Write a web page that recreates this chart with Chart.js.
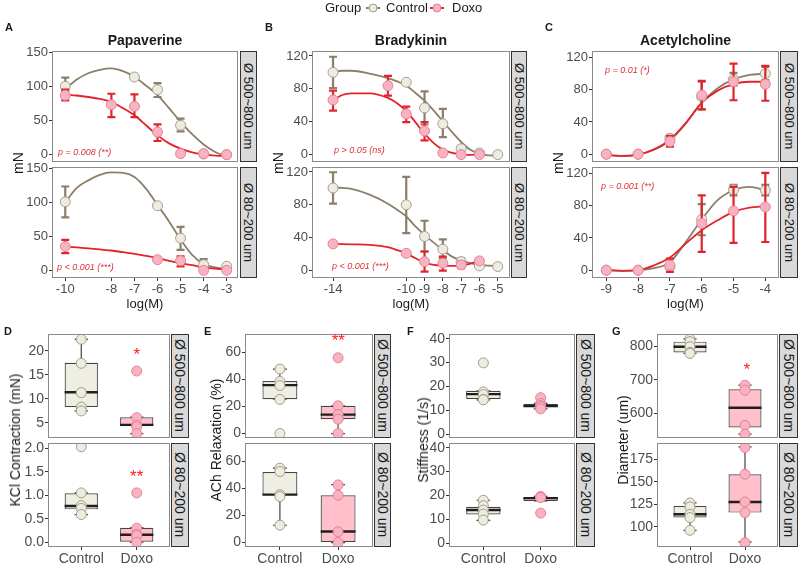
<!DOCTYPE html>
<html><head><meta charset="utf-8">
<script src="https://cdn.jsdelivr.net/npm/chart.js@4.4.1/dist/chart.umd.min.js"></script>
<style>
html,body{margin:0;padding:0;background:#fff;}
#stage{position:relative;width:800px;height:563px;overflow:hidden;background:#fff;font-family:"Liberation Sans",Arial,Helvetica,sans-serif;color:#1a1a1a;}
#stage canvas{position:absolute;}
.t{position:absolute;white-space:nowrap;line-height:1;}
.strip{position:absolute;background:#d9d9d9;border:1px solid #333;box-sizing:border-box;display:flex;align-items:center;justify-content:center;z-index:5;}
.strip span{writing-mode:vertical-rl;white-space:nowrap;color:#1a1a1a;}
.letter{font-weight:bold;font-size:11px;}
.title{font-weight:bold;font-size:14px;transform:translateX(-50%);}
.ylab{font-size:14px;transform:translate(-50%,-50%) rotate(-90deg);}
.xlab{font-size:13px;transform:translateX(-50%);}
.pval{font-style:italic;font-size:9px;color:#e0303a;}
.star{color:#ff1a1a;font-size:17px;transform:translate(-50%,-30%);}
</style>
</head><body>
<div id="stage"></div>
<script>
// ================= DATA =================
const groups = ['Control', 'Doxo'];
const sizeLabels = ['Ø 500~800 um', 'Ø 80~200 um'];

// ---- A: Papaverine ----
const papDoses  = [-10, -8, -7, -6, -5, -4, -3];
const papXTicks = [-10, -8, -7, -6, -5, -4, -3];
const papYTicks = [0, 50, 100, 150];
const papFitX   = [-10, -9.5, -9, -8.5, -8, -7.5, -7, -6.5, -6, -5.5, -5, -4.5, -4, -3.5, -3];
const papLgCtrl   = [100, null, 113.5, 95, 43, 1, 0];
const papLgCtrlLo = [93, null, null, 84.3, 34, null, null];
const papLgCtrlHi = [112.5, null, null, 104.7, 52.6, null, null];
const papLgDoxo   = [86.7, 73, 70.6, 33, 1.5, 1.5, 0];
const papLgDoxoLo = [79.4, 55, 55, 20, null, null, null];
const papLgDoxoHi = [95, 89, 88, 44.3, null, null, null];
const papLgCtrlFit = [96, 110, 119, 124, 126, 122, 114, 101, 87, 68, 48, 30, 15, 4, -2.4];
const papLgDoxoFit = [88, 86.5, 84.3, 81.5, 77, 68, 57.5, 43, 28.2, 16.5, 8.8, 3.5, 0.5, -1.5, -2];
const papSmCtrl   = [100.6, null, null, 94.8, 47.4, 8.7, 6.3];
const papSmCtrlLo = [78, null, null, null, 30.5, 1.5, 4];
const papSmCtrlHi = [123, null, null, null, 64, 17, 8.5];
const papSmDoxo   = [35.3, null, null, 16, 14.5, 0.5, 0.5];
const papSmDoxoLo = [25.6, null, null, null, 6.3, null, null];
const papSmDoxoHi = [45, null, null, null, 21, null, null];
const papSmCtrlFit = [100, 121, 132, 140, 143.5, 143, 137, 120, 96, 72, 45.5, 23, 9.7, 4.8, 2.4];
const papSmDoxoFit = [35.3, 34, 32.5, 31, 29.5, 27, 24.7, 21.5, 18.4, 14.5, 11, 8, 4.8, 3, 1.5];

// ---- B: Bradykinin ----
const braDoses  = [-14, -11, -10, -9, -8, -7, -6, -5];
const braXTicks = [-14, -10, -9, -8, -7, -6, -5];
const braYTicks = [0, 40, 80, 120];
const braFitX   = [-14, -13.5, -13, -12, -11, -10.5, -10, -9.5, -9, -8.5, -8, -7.5, -7, -6.5, -6, -5.5, -5];
const braLgCtrl   = [100, null, 88, 56.8, 37.5, 7.2, 2, 0];
const braLgCtrlLo = [81, null, null, 36.6, 21.3, 5, null, null];
const braLgCtrlHi = [119, null, null, 77, 55.6, 10, null, null];
const braLgDoxo   = [66.5, 83.8, 49.5, 28.6, 2, 0, 0, null];
const braLgDoxoLo = [53.6, 71.7, 39.5, 17.3, null, null, null, null];
const braLgDoxoHi = [77.7, 95.8, 58.4, 39.5, null, null, null, null];
const braLgCtrlFit = [100, 102, 102, 98.6, 93, 89, 84, 75, 65.6, 53.6, 40.7, 27.4, 15.3, 6, 1.2, -1, -1.2];
const braLgDoxoFit = [65.6, 72.5, 74.5, 74.5, 68.9, 62.4, 52.8, 39.5, 25.4, 14, 6, 2, 0.4, -0.3, 0, null, null];
const braSmCtrl   = [100.5, null, 80, 41.5, 26, 11, 5.7, 4.9];
const braSmCtrlLo = [81.4, null, 45.6, 23.2, 15, 7, null, null];
const braSmCtrlHi = [119.6, null, 114, 60.6, 38, 15, null, null];
const braSmDoxo   = [32.5, null, 21, 11, 9, 7, 11.8, null];
const braSmDoxoLo = [null, null, 19, -1.2, 0, 3, null, null];
const braSmDoxoHi = [null, null, 23, 23.2, 17, 11, null, null];
const braSmCtrlFit = [101.3, 100.5, 99.3, 92.4, 81.4, 74, 66, 53.7, 43.5, 34, 25.2, 17, 12.2, 9, 7, 6, 5.7];
const braSmDoxoFit = [32.5, 32.3, 32, 31.3, 28.5, 25, 21, 15, 9.8, 7, 6.1, 5.8, 6.1, 8.5, 12.2, null, null];

// ---- C: Acetylcholine ----
const achDoses  = [-9, -8, -7, -6, -5, -4];
const achXTicks = [-9, -8, -7, -6, -5, -4];
const achYTicks = [0, 40, 80, 120];
const achFitX   = [-9, -8.5, -8, -7.5, -7, -6.5, -6, -5.5, -5, -4.5, -4];
const achLgCtrl   = [0, 0, 19.8, 71.3, 93.2, 100];
const achLgCtrlLo = [null, null, 17, 55.7, 85, 92];
const achLgCtrlHi = [null, null, 22.7, 90, 101, 108.5];
const achLgDoxo   = [0, 0, 15.7, 73.4, 90, 87];
const achLgDoxoLo = [null, null, 9.5, 55.7, 67, 66.4];
const achLgDoxoHi = [null, null, 22.7, 91, 112.6, 109.7];
const achLgCtrlFit = [-1, -2, -0.5, 5.5, 17, 38, 64, 82, 93, 98.5, 100];
const achLgDoxoFit = [-1, -2, -0.5, 6, 18, 39, 64, 79, 87, 90, 90];
const achSmCtrl   = [0, 0, 4, 62.9, 100, 99.3];
const achSmCtrlLo = [null, null, 2, 43.4, 93, 93];
const achSmCtrlHi = [null, null, 7, 82, 106, 106];
const achSmDoxo   = [0, 0, 6.2, 58, 73.6, 78.6];
const achSmDoxoLo = [null, null, -2, 22.8, 34, 35];
const achSmDoxoHi = [null, null, 14.5, 93, 103.4, 121];
const achSmCtrlFit = [0, -0.8, 0, 2.5, 10, 35, 63, 87, 99.3, 103.4, 99.3];
const achSmDoxoFit = [0, -0.8, 0, 6, 15.7, 33, 49.6, 62, 72.4, 77.7, 79.4];

// ---- D: KCl contraction (box: min, q1, median, q3, max) ----
const kclLgTicks = [5, 10, 15, 20];
const kclSmTicks = [0, 0.5, 1, 1.5, 2];
const kclSmTickLabels = ['0.0', '0.5', '1.0', '1.5', '2.0'];
const kclLgCtrlPts = [22.4, 17.4, 11.3, 8.3, 7.5];
const kclLgDoxoPts = [15.8, 6.1, 4.5, 4.2, 2.8];
const kclLgCtrlBox = [7.5, 8.3, 11.4, 17.5, 22.4];
const kclLgDoxoBox = [2.8, 4.3, 4.6, 6.2, 6.2];
const kclSmCtrlPts = [2.03, 1.05, 0.78, 0.72, 0.59];
const kclSmDoxoPts = [1.05, 0.3, 0.17, 0.14, 0.0];
const kclSmCtrlBox = [0.59, 0.70, 0.77, 1.04, 1.05];
const kclSmDoxoBox = [0.0, 0.01, 0.16, 0.31, 0.31];

// ---- E: ACh relaxation ----
const achRelTicks = [0, 20, 40, 60];
const relLgCtrlPts = [47.7, 38.5, 35.5, 25.2, 0];
const relLgDoxoPts = [56, 20.5, 14, 10.6, 0];
const relLgCtrlBox = [25.4, 25.4, 35.8, 38.8, 47.7];
const relLgDoxoBox = [0, 10.6, 14, 20.5, 20.5];
const relSmCtrlPts = [55, 52.5, 35.4, 34, 12.8];
const relSmDoxoPts = [42.6, 35, 8, 0];
const relSmCtrlBox = [12.8, 34.9, 35.4, 52.1, 55];
const relSmDoxoBox = [0, 0, 8.2, 35, 42.8];

// ---- F: Stiffness ----
const stfTicks = [0, 10, 20, 30, 40];
const stfLgCtrlPts = [29.9, 17.7, 16.6, 14.6, 14.4];
const stfLgDoxoPts = [15.3, 12.9, 12.0, 11.5, 10.6];
const stfLgCtrlBox = [14.4, 14.8, 16.8, 18.2, 18.2];
const stfLgDoxoBox = [10.6, 11.5, 11.8, 12.7, 12.9];
const stfSmCtrlPts = [18, 15.7, 13.9, 12.2, 9.7];
const stfSmDoxoPts = [19.6, 19.3, 19.1, 12.6];
const stfSmCtrlBox = [9.6, 12, 13.9, 15.3, 18];
const stfSmDoxoBox = [17.7, 17.7, 18.9, 19.4, 19.6];

// ---- G: Diameter ----
const diaLgTicks = [600, 700, 800];
const diaSmTicks = [100, 125, 150, 175];
const diaLgCtrlPts = [821, 813, 798, 781, 778];
const diaLgDoxoPts = [684, 669, 565, 539];
const diaLgCtrlBox = [778, 781, 798, 813, 821];
const diaLgDoxoBox = [539, 558.5, 617, 672, 684];
const diaSmCtrlPts = [126.6, 122.2, 114, 110.4, 96.3];
const diaSmDoxoPts = [188, 158.4, 127.7, 115.9, 82.6];
const diaSmCtrlBox = [96.3, 110.4, 114, 123.3, 126.6];
const diaSmDoxoBox = [83.4, 115.9, 127.7, 158.4, 188.7];

// ================= STYLE =================
const FONT = '"Liberation Sans", Arial, Helvetica, sans-serif';
const TXT = '#4d4d4d';
const CTRL_LINE = '#8b7f69', CTRL_FILL = '#ecece0', CTRL_EDGE = '#a39d8b';
const DOXO_LINE = '#e2232b', DOXO_FILL = '#f9b2c1', DOXO_EDGE = '#e58396';
const BOX_FILL = ['#eeefe2', '#ffc0cb'];

// ================= PLUGINS =================
const framePlugin = {
  id: 'frame',
  afterDatasetsDraw(chart) {
    const { ctx, chartArea: a } = chart;
    ctx.save();
    ctx.strokeStyle = '#8a8a8a'; ctx.lineWidth = 1;
    ctx.strokeRect(Math.round(a.left) + 0.5, Math.round(a.top) + 0.5,
                   Math.round(a.right - a.left) - 1, Math.round(a.bottom - a.top) - 1);
    ctx.restore();
  }
};
const errPlugin = {
  id: 'errbars',
  beforeDatasetDraw(chart, args) {
    const ds = chart.data.datasets[args.index];
    if (!ds.errColor) return;
    const { ctx, chartArea: a } = chart, xs = chart.scales.x, ys = chart.scales.y;
    ctx.save();
    ctx.beginPath(); ctx.rect(a.left, a.top, a.right - a.left, a.bottom - a.top); ctx.clip();
    ctx.strokeStyle = ds.errColor; ctx.lineWidth = 2.2; ctx.lineCap = 'butt';
    ds.data.forEach(p => {
      if (p.lo == null || p.hi == null) return;
      const x = xs.getPixelForValue(p.x), y1 = ys.getPixelForValue(p.lo), y2 = ys.getPixelForValue(p.hi);
      ctx.beginPath();
      ctx.moveTo(x, y1); ctx.lineTo(x, y2);
      ctx.moveTo(x - 4, y1); ctx.lineTo(x + 4, y1);
      ctx.moveTo(x - 4, y2); ctx.lineTo(x + 4, y2);
      ctx.stroke();
    });
    ctx.restore();
  }
};
const boxPlugin = {
  id: 'boxwhisk',
  beforeDatasetDraw(chart, args) {
    const ds = chart.data.datasets[args.index];
    if (!ds.stats) return;
    const { ctx } = chart, xs = chart.scales.x, ys = chart.scales.y;
    ctx.save(); ctx.strokeStyle = '#444'; ctx.lineWidth = 1.2;
    ds.stats.forEach((s, i) => {
      const xc = ds.data[i].x;
      const px = xs.getPixelForValue(xc), cl = xs.getPixelForValue(xc - 0.12), cr = xs.getPixelForValue(xc + 0.12);
      const yl = ys.getPixelForValue(s[0]), yq1 = ys.getPixelForValue(s[1]), yq3 = ys.getPixelForValue(s[3]), yh = ys.getPixelForValue(s[4]);
      ctx.beginPath();
      ctx.moveTo(px, yq3); ctx.lineTo(px, yh);
      ctx.moveTo(px, yq1); ctx.lineTo(px, yl);
      ctx.moveTo(cl, yh); ctx.lineTo(cr, yh);
      ctx.moveTo(cl, yl); ctx.lineTo(cr, yl);
      ctx.stroke();
    });
    ctx.restore();
  },
  afterDatasetDraw(chart, args) {
    const ds = chart.data.datasets[args.index];
    if (!ds.stats) return;
    const { ctx } = chart, xs = chart.scales.x, ys = chart.scales.y;
    ctx.save(); ctx.strokeStyle = '#1f1f1f'; ctx.lineWidth = 2.4;
    ds.stats.forEach((s, i) => {
      const xc = ds.data[i].x;
      const bl = xs.getPixelForValue(xc - 0.3), br = xs.getPixelForValue(xc + 0.3), ym = ys.getPixelForValue(s[2]);
      ctx.beginPath(); ctx.moveTo(bl, ym); ctx.lineTo(br, ym); ctx.stroke();
    });
    ctx.restore();
  }
};

// ================= HELPERS =================
const stage = document.getElementById('stage');
function txt(cls, html, left, top, extra) {
  const d = document.createElement('div');
  d.className = 't ' + cls; d.innerHTML = html;
  d.style.left = left + 'px'; d.style.top = top + 'px';
  if (extra) Object.assign(d.style, extra);
  stage.appendChild(d); return d;
}
function strip(label, left, top, w, h, fs) {
  const d = document.createElement('div');
  d.className = 'strip';
  Object.assign(d.style, { left: left + 'px', top: top + 'px', width: w + 'px', height: h + 'px' });
  d.innerHTML = '<span style="font-size:' + fs + 'px">' + label + '</span>';
  stage.appendChild(d);
}
function pts(xs, ys, lo, hi) {
  return xs.map((x, i) => ({ x, y: ys[i], lo: lo ? lo[i] : null, hi: hi ? hi[i] : null })).filter(p => p.y != null);
}
function axisCfg(o) {
  const c = {
    type: 'linear', min: o.min, max: o.max, offset: false, display: o.display !== false,
    afterBuildTicks: s => { s.ticks = o.ticks.map(v => ({ value: v })); },
    grid: { display: true, offset: false, drawOnChartArea: false, drawTicks: true, tickLength: 3, color: '#333', lineWidth: 1 },
    border: { display: false },
    ticks: { color: TXT, font: { size: o.fs, family: FONT }, padding: 1, autoSkip: false, maxRotation: 0,
             callback: (v, i) => (o.labels ? o.labels[i] : String(v)) }
  };
  if (o.w) c.afterFit = s => { s.width = o.w; };
  if (o.h) c.afterFit = s => { s.height = o.h; };
  return c;
}
function panel(o) {
  const PAD = 10;
  const cw = o.axisW + o.w + PAD, ch = PAD + o.h + (o.showX ? o.xh : PAD);
  const c = document.createElement('canvas');
  Object.assign(c.style, { left: (o.left - o.axisW) + 'px', top: (o.top - PAD) + 'px', width: cw + 'px', height: ch + 'px' });
  c.width = cw; c.height = ch;
  stage.appendChild(c);
  new Chart(c, {
    type: 'scatter',
    data: { datasets: o.datasets },
    options: {
      responsive: false, animation: false, events: [], devicePixelRatio: 1,
      layout: { padding: { top: PAD, right: PAD, left: 0, bottom: o.showX ? 0 : PAD } },
      plugins: { legend: { display: false }, tooltip: { enabled: false } },
      scales: {
        x: axisCfg({ min: o.xr[0], max: o.xr[1], ticks: o.xTicks, labels: o.xLabels, fs: o.fs, display: o.showX, h: o.showX ? o.xh : 0 }),
        y: axisCfg({ min: o.yr[0], max: o.yr[1], ticks: o.yTicks, labels: o.yLabels, fs: o.fs, w: o.axisW })
      }
    },
    plugins: [framePlugin, errPlugin, boxPlugin]
  });
}
function curveSets(fitX, ctrlFit, doxoFit, doses, c, cLo, cHi, d, dLo, dHi) {
  const line = (data, col, order) => ({ type: 'line', data, borderColor: col, borderWidth: 1.8, pointRadius: 0,
    cubicInterpolationMode: 'monotone', fill: false, order });
  const dots = (data, fill, edge, ecol, order) => ({ type: 'scatter', data, backgroundColor: fill, borderColor: edge,
    borderWidth: 1, pointRadius: 5, errColor: ecol, order });
  return [
    line(pts(fitX, ctrlFit), CTRL_LINE, 6),
    line(pts(fitX, doxoFit), DOXO_LINE, 5),
    dots(pts(doses, c, cLo, cHi), CTRL_FILL, CTRL_EDGE, CTRL_LINE, 4),
    dots(pts(doses, d, dLo, dHi), DOXO_FILL, DOXO_EDGE, DOXO_LINE, 3)
  ];
}
function boxSets(ctrlBox, doxoBox, ctrlPts, doxoPts) {
  const stats = [ctrlBox, doxoBox];
  return [
    { type: 'bar', data: stats.map((s, i) => ({ x: i + 1, y: [s[1], s[3]] })), stats,
      backgroundColor: BOX_FILL, borderColor: '#444', borderWidth: 1.2, borderSkipped: false,
      barPercentage: 0.6, categoryPercentage: 1, order: 3 },
    { type: 'scatter', data: ctrlPts.map(v => ({ x: 1, y: v })), backgroundColor: CTRL_FILL, borderColor: CTRL_EDGE,
      borderWidth: 1, pointRadius: 5, order: 2 },
    { type: 'scatter', data: doxoPts.map(v => ({ x: 2, y: v })), backgroundColor: DOXO_FILL, borderColor: DOXO_EDGE,
      borderWidth: 1, pointRadius: 5, order: 1 }
  ];
}

// ================= TOP ROW =================
const TOP1 = 51, TOP2 = 167, TH = 111;
const topPanels = [
  { key: 'A', title: 'Papaverine', left: 52, w: 186, xr: [-10.575, -2.51], yr: [-10.7, 151.5], xT: papXTicks, yT: papYTicks, strip: 240, sw: 17,
    lg: curveSets(papFitX, papLgCtrlFit, papLgDoxoFit, papDoses, papLgCtrl, papLgCtrlLo, papLgCtrlHi, papLgDoxo, papLgDoxoLo, papLgDoxoHi),
    sm: curveSets(papFitX, papSmCtrlFit, papSmDoxoFit, papDoses, papSmCtrl, papSmCtrlLo, papSmCtrlHi, papSmDoxo, papSmDoxoLo, papSmDoxoHi) },
  { key: 'B', title: 'Bradykinin', left: 312, w: 198, xr: [-15.15, -4.33], yr: [-9, 126], xT: braXTicks, yT: braYTicks, strip: 511, sw: 16,
    lg: curveSets(braFitX, braLgCtrlFit, braLgDoxoFit, braDoses, braLgCtrl, braLgCtrlLo, braLgCtrlHi, braLgDoxo, braLgDoxoLo, braLgDoxoHi),
    sm: curveSets(braFitX, braSmCtrlFit, braSmDoxoFit, braDoses, braSmCtrl, braSmCtrlLo, braSmCtrlHi, braSmDoxo, braSmDoxoLo, braSmDoxoHi) },
  { key: 'C', title: 'Acetylcholine', left: 592, w: 187, xr: [-9.45, -3.57], yr: [-9.7, 128.2], xT: achXTicks, yT: achYTicks, strip: 780, sw: 18,
    lg: curveSets(achFitX, achLgCtrlFit, achLgDoxoFit, achDoses, achLgCtrl, achLgCtrlLo, achLgCtrlHi, achLgDoxo, achLgDoxoLo, achLgDoxoHi),
    sm: curveSets(achFitX, achSmCtrlFit, achSmDoxoFit, achDoses, achSmCtrl, achSmCtrlLo, achSmCtrlHi, achSmDoxo, achSmDoxoLo, achSmDoxoHi) }
];
topPanels.forEach(p => {
  const common = { left: p.left, w: p.w, h: TH, axisW: 40, xr: p.xr, yr: p.yr, xTicks: p.xT, yTicks: p.yT, fs: 13, xh: 18 };
  panel(Object.assign({}, common, { top: TOP1, showX: false, datasets: p.lg }));
  panel(Object.assign({}, common, { top: TOP2, showX: true, datasets: p.sm }));
  strip(sizeLabels[0], p.strip, TOP1, p.sw, TH, 13);
  strip(sizeLabels[1], p.strip, TOP2, p.sw, TH, 13);
  const cx = p.left + p.w / 2;
  txt('title', p.title, cx, 33);
  txt('letter', p.key, p.left - 47, 22);
  txt('ylab', 'mN', p.left - 34, 163);
  txt('xlab', 'log(M)', cx, 297);
});

// p-values
txt('pval', 'p = 0.008 (**)', 58, 148);
txt('pval', 'p &lt; 0.001 (***)', 57, 263);
txt('pval', 'p &gt; 0.05 (ns)', 334, 146);
txt('pval', 'p &lt; 0.001 (***)', 332, 262);
txt('pval', 'p = 0.01 (*)', 605, 66);
txt('pval', 'p = 0.001 (**)', 601, 182);

// ================= BOTTOM ROW =================
const BT1 = 334, BT2 = 443, BH = 104;
const botPanels = [
  { key: 'D', ylab: 'KCl Contraction (mN)', left: 48, w: 122, strip: 171, sw: 18, labX: 15, letX: 4,
    lg: { yr: [1.87, 23.5], t: kclLgTicks, ds: boxSets(kclLgCtrlBox, kclLgDoxoBox, kclLgCtrlPts, kclLgDoxoPts) },
    sm: { yr: [-0.1, 2.11], t: kclSmTicks, l: kclSmTickLabels, ds: boxSets(kclSmCtrlBox, kclSmDoxoBox, kclSmCtrlPts, kclSmDoxoPts) } },
  { key: 'E', ylab: 'ACh Relaxation (%)', left: 245, w: 128, strip: 374, sw: 17, labX: 216, letX: 204,
    lg: { yr: [-3.3, 73.6], t: achRelTicks, ds: boxSets(relLgCtrlBox, relLgDoxoBox, relLgCtrlPts, relLgDoxoPts) },
    sm: { yr: [-3.3, 73.6], t: achRelTicks, ds: boxSets(relSmCtrlBox, relSmDoxoBox, relSmCtrlPts, relSmDoxoPts) } },
  { key: 'F', ylab: 'Stiffness (1/s)', left: 449, w: 126, strip: 576, sw: 19, labX: 423, letX: 407,
    lg: { yr: [-1.6, 42], t: stfTicks, ds: boxSets(stfLgCtrlBox, stfLgDoxoBox, stfLgCtrlPts, stfLgDoxoPts) },
    sm: { yr: [-1.6, 42], t: stfTicks, ds: boxSets(stfSmCtrlBox, stfSmDoxoBox, stfSmCtrlPts, stfSmDoxoPts) } },
  { key: 'G', ylab: 'Diameter (um)', left: 657, w: 121, strip: 779, sw: 19, labX: 623, letX: 612,
    lg: { yr: [527.6, 835.6], t: diaLgTicks, ds: boxSets(diaLgCtrlBox, diaLgDoxoBox, diaLgCtrlPts, diaLgDoxoPts) },
    sm: { yr: [77.8, 193], t: diaSmTicks, ds: boxSets(diaSmCtrlBox, diaSmDoxoBox, diaSmCtrlPts, diaSmDoxoPts) } }
];
botPanels.forEach(p => {
  const common = { left: p.left, w: p.w, h: BH, axisW: p.key === 'G' ? 40 : 34, xr: [0.4, 2.6], xTicks: [1, 2], xLabels: groups, fs: 14, xh: 19 };
  panel(Object.assign({}, common, { top: BT1, showX: false, yr: p.lg.yr, yTicks: p.lg.t, yLabels: p.lg.l, datasets: p.lg.ds }));
  panel(Object.assign({}, common, { top: BT2, showX: true, yr: p.sm.yr, yTicks: p.sm.t, yLabels: p.sm.l, datasets: p.sm.ds }));
  strip(sizeLabels[0], p.strip, BT1, p.sw, BH, 14);
  strip(sizeLabels[1], p.strip, BT2, p.sw, BH, 14);
  txt('letter', p.key, p.letX, 326);
  txt('ylab', p.ylab, p.labX, 440);
});

// significance stars
txt('star', '*', 136.7, 351);
txt('star', '**', 136.7, 473);
txt('star', '**', 338.3, 337);
txt('star', '*', 746.7, 366);

// ================= LEGEND =================
function legIcon(left, line, fill, edge) {
  const d = document.createElement('div');
  d.className = 't';
  Object.assign(d.style, { left: left + 'px', top: '1px' });
  d.innerHTML = '<svg width="14" height="12"><line x1="0" y1="6" x2="14" y2="6" stroke="' + line + '" stroke-width="2"/>' +
    '<circle cx="7" cy="6" r="4" fill="' + fill + '" stroke="' + edge + '" stroke-width="1"/></svg>';
  stage.appendChild(d);
}
txt('', 'Group', 325, 1, { fontSize: '13px' });
legIcon(366, CTRL_LINE, CTRL_FILL, CTRL_EDGE);
txt('', 'Control', 386, 1, { fontSize: '13px' });
legIcon(430, DOXO_LINE, DOXO_FILL, DOXO_EDGE);
txt('', 'Doxo', 452, 1, { fontSize: '13px' });
</script>
</body></html>
